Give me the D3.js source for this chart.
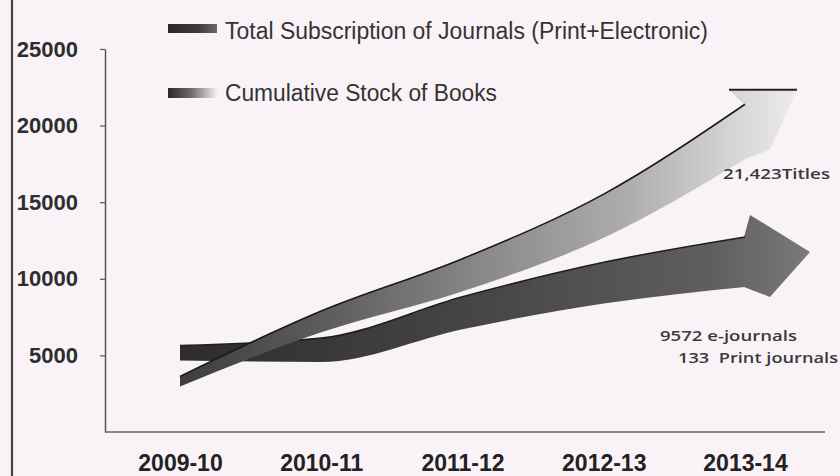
<!DOCTYPE html>
<html><head><meta charset="utf-8">
<script src="https://cdn.jsdelivr.net/npm/d3@7"></script>
<style>html,body{margin:0;padding:0;background:#f9f3f7;} svg{display:block;}</style>
</head><body><svg id="c" width="840" height="476"></svg>
<script>
const categories = ["2009-10","2010-11","2011-12","2012-13","2013-14"];
const journalSubscriptions = [5160, 5350, 7770, 9730, 11100];
const bookStock = [3300, 7200, 10250, 14100, 19600];
const yTicks = [5000, 10000, 15000, 20000, 25000];
const seriesNames = ["Total Subscription of Journals (Print+Electronic)", "Cumulative Stock of Books"];
const bookNote = "21,423Titles";
const journalNotes = ["9572 e-journals", "133  Print journals"];

const W = 840, H = 476;
const svg = d3.select("#c");
svg.append("rect").attr("width", W).attr("height", H).attr("fill", "#f9f3f7");

const x = d3.scalePoint().domain(categories).range([180, 745]);
const y = d3.scaleLinear().domain([0, 25000]).range([432, 49]);

const defs = svg.append("defs");
function grad(id, x1, x2, stops) {
  const g = defs.append("linearGradient").attr("id", id)
    .attr("gradientUnits", "userSpaceOnUse")
    .attr("x1", x1).attr("x2", x2).attr("y1", 0).attr("y2", 0);
  stops.forEach(s => g.append("stop").attr("offset", s[0]).attr("stop-color", s[1]));
}
grad("gBooks", 175, 800, [[0, "#3c3c3c"], [0.25, "#5e5e5e"], [0.5, "#8a8a8a"], [0.72, "#acacac"], [0.88, "#d2d2d2"], [1, "#ededed"]]);
grad("gJour", 175, 810, [[0, "#2c2c2c"], [0.5, "#474747"], [0.85, "#5f5f5f"], [1, "#7a7a7a"]]);
grad("gLegJ", 168, 217, [[0, "#2a2a2a"], [0.6, "#3a3a3a"], [1, "#6a6a6a"]]);
grad("gLegB", 168, 217, [[0, "#2a2a2a"], [0.45, "#666"], [1, "#f0f0f0"]]);

// left border line
svg.append("line").attr("x1", 12).attr("x2", 12).attr("y1", 0).attr("y2", H)
  .attr("stroke", "#444").attr("stroke-width", 2.2);

// axes
const yAxis = svg.append("g").attr("transform", "translate(105,0)")
  .call(d3.axisLeft(y).tickValues(yTicks).tickSize(5).tickSizeOuter(0).tickPadding(22).tickFormat(d3.format("d")));
yAxis.select(".domain").attr("stroke", "#555").attr("stroke-width", 1.5);
yAxis.selectAll(".tick line").attr("stroke", "#555").attr("stroke-width", 1.2);
yAxis.selectAll(".tick text").attr("font-family", "Liberation Sans, Arial, sans-serif")
  .attr("font-size", 22).attr("font-weight", "bold").attr("fill", "#2e2e2e");

svg.append("line").attr("x1", 105).attr("x2", 825).attr("y1", y(0)).attr("y2", y(0))
  .attr("stroke", "#666").attr("stroke-width", 1.6);
const xAxis = svg.append("g").attr("transform", `translate(0,${y(0)})`)
  .call(d3.axisBottom(x).tickSize(0).tickPadding(23));
xAxis.select(".domain").remove();
xAxis.selectAll(".tick text").attr("font-family", "Liberation Sans, Arial, sans-serif")
  .attr("font-size", 23).attr("font-weight", "bold").attr("fill", "#222");

// arrow bands
function drawArrow(values, thick, fillId, head, edgeColor) {
  const n = values.length;
  const pts = values.map((v, i) => ({ x: x(categories[i]), c: y(v), t: thick(i) }));
  const area = d3.area().curve(d3.curveMonotoneX)
    .x(d => d.x).y0(d => d.c + d.t / 2).y1(d => d.c - d.t / 2);
  svg.append("path").attr("d", area(pts)).attr("fill", `url(#${fillId})`);
  const e = pts[n - 1];
  const hp = head(e);
  svg.append("path").attr("d", d3.line()(hp) + "Z").attr("fill", `url(#${fillId})`);
  const topLine = d3.line().curve(d3.curveMonotoneX).x(d => d.x).y(d => d.c - d.t / 2);
  svg.append("path").attr("d", topLine(pts)).attr("fill", "none")
    .attr("stroke", edgeColor).attr("stroke-width", 1.6);
  return e;
}

const jThick = d3.scaleLinear().domain([0, 4]).range([15, 50]);
drawArrow(journalSubscriptions, jThick, "gJour", e => [
  [e.x - 1, e.c - e.t / 2], [e.x + 5, e.c - 47], [e.x + 65, e.c - 10], [e.x + 25, e.c + 35], [e.x - 1, e.c + e.t / 2]
], "#1e1e1e");

const bThick = d3.scaleLinear().domain([0, 4]).range([10, 55]);
const be = drawArrow(bookStock, bThick, "gBooks", e => [
  [e.x - 1, e.c - e.t / 2], [e.x - 16, e.c - 42], [e.x + 52, e.c - 42], [e.x + 25, e.c + 18], [e.x - 1, e.c + e.t / 2]
], "#1a1a1a");
svg.append("line").attr("x1", be.x - 16).attr("x2", be.x + 52).attr("y1", be.c - 42).attr("y2", be.c - 42)
  .attr("stroke", "#222").attr("stroke-width", 1.8);

// legend
svg.append("rect").attr("x", 168).attr("y", 24).attr("width", 49).attr("height", 9).attr("fill", "url(#gLegJ)");
svg.append("rect").attr("x", 168).attr("y", 88).attr("width", 49).attr("height", 10).attr("fill", "url(#gLegB)");
const legTextW = [483, 272];
[39, 101].forEach((yy, i) => {
  svg.append("text").attr("x", 225).attr("y", yy).text(seriesNames[i])
    .attr("font-family", "Liberation Sans, Arial, sans-serif").attr("font-size", 23)
    .attr("fill", "#333").attr("textLength", legTextW[i]).attr("lengthAdjust", "spacingAndGlyphs");
});

// annotations
const noteFont = "Open Sans, Liberation Sans, sans-serif";
svg.append("text").attr("x", 723).attr("y", 179).text(bookNote)
  .attr("font-family", noteFont).attr("font-size", 14).attr("font-weight", 600).attr("fill", "#3a3a3a")
  .attr("textLength", 107).attr("lengthAdjust", "spacingAndGlyphs");
svg.append("text").attr("x", 660).attr("y", 341).text(journalNotes[0])
  .attr("font-family", noteFont).attr("font-size", 14).attr("font-weight", 600).attr("fill", "#3a3a3a")
  .attr("textLength", 137).attr("lengthAdjust", "spacingAndGlyphs");
svg.append("text").attr("x", 678).attr("y", 363).text(journalNotes[1]).style("white-space", "pre")
  .attr("font-family", noteFont).attr("font-size", 14).attr("font-weight", 600).attr("fill", "#3a3a3a")
  .attr("textLength", 160).attr("lengthAdjust", "spacingAndGlyphs");
</script></body></html>
